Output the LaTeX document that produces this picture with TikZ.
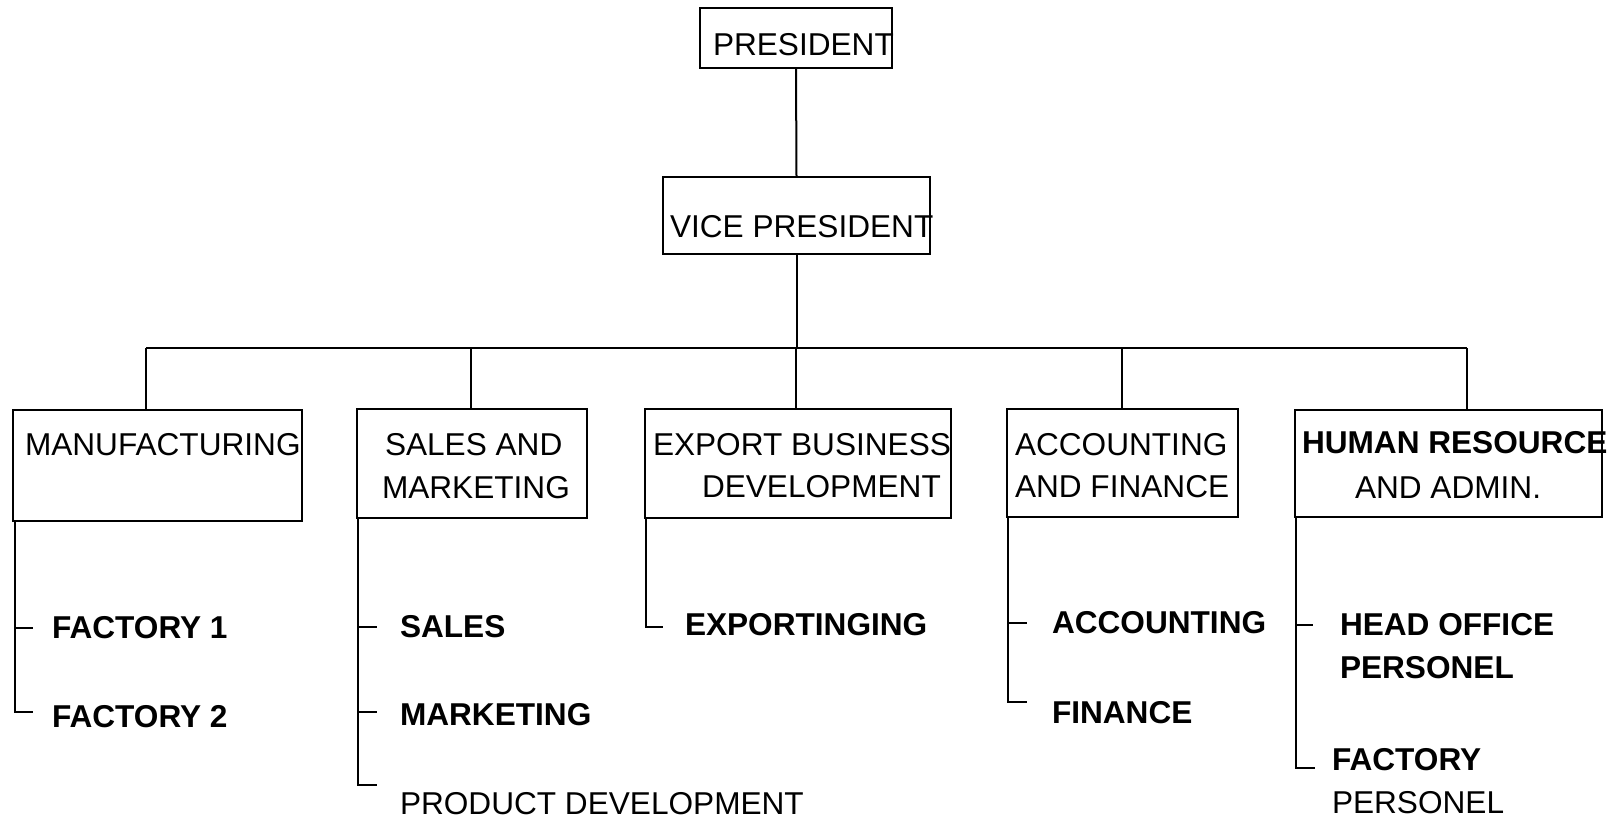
\documentclass[tikz,border=0pt]{standalone}
\usepackage{fontspec}
\setmainfont{Liberation Sans}
\begin{document}
\begin{tikzpicture}[x=1pt,y=-1pt,
  every node/.style={inner sep=0pt, outer sep=0pt},
  box/.style={draw, line width=2.8pt, rectangle, anchor=north west},
  txt/.style={anchor=base west, font=\fontsize{31.6}{36}\selectfont},
  txtb/.style={anchor=base west, font=\fontsize{31.6}{36}\selectfont\bfseries},
  wire/.style={line width=2pt}]
\useasboundingbox (0,0) rectangle (1620,819);

% --- boxes ---
\node[box, minimum width=192pt, minimum height=60pt]  (pres) at (700,8) {};
\node[box, minimum width=267pt, minimum height=77pt]  (vp)   at (663,177) {};
\node[box, minimum width=289pt, minimum height=111pt] (mfg)  at (13,410) {};
\node[box, minimum width=230pt, minimum height=109pt] (sam)  at (357,409) {};
\node[box, minimum width=306pt, minimum height=109pt] (ebd)  at (645,409) {};
\node[box, minimum width=231pt, minimum height=108pt] (aaf)  at (1007,409) {};
\node[box, minimum width=307pt, minimum height=107pt] (hra)  at (1295,410) {};

% --- box captions ---
\node[txt] (presT) at (713,55) {PRESIDENT};
\node[txt] (vpT)   at (670,237) {VICE PRESIDENT};
\node[txt] (mfgT)  at (25,455) {MANUFACTURING};
\node[txt] (samT1) at (385,455) {SALES AND};
\node[txt] (samT2) at (382,498) {MARKETING};
\node[txt] (ebdT1) at (653,455) {EXPORT BUSINESS};
\node[txt] (ebdT2) at (702,497) {DEVELOPMENT};
\node[txt] (aafT1) at (1015,455) {ACCOUNTING};
\node[txt] (aafT2) at (1015,497) {AND FINANCE};
\node[txtb] (hraT1) at (1302,453) {HUMAN RESOURCE};
\node[txt] (hraT2) at (1355,498) {AND ADMIN.};

% --- upper connectors ---
\draw[wire] (pres.south) -- (vp.north);
\coordinate (bar) at (796,348);
\draw[wire] (vp.south) -- (vp.south |- bar);
\coordinate (t1) at ([xshift=133pt]mfg.north west);
\coordinate (t2) at ([xshift=114pt]sam.north west);
\coordinate (t3) at ([xshift=151pt]ebd.north west);
\coordinate (t4) at ([xshift=115pt]aaf.north west);
\coordinate (t5) at ([xshift=172pt]hra.north west);
\draw[wire] (t1 |- bar) -- (t5 |- bar);
\foreach \t in {t1,t2,t3,t4,t5} \draw[wire] (\t) -- (\t |- bar);

% --- manufacturing units ---
\coordinate (m0) at ([xshift=2pt]mfg.south west);
\coordinate (m1) at (33,628);
\coordinate (m2) at (33,712);
\draw[wire] (m0) |- (m2);
\draw[wire] (m0 |- m1) -- (m1);
\node[txtb] (f1) at (52,638) {FACTORY 1};
\node[txtb] (f2) at (52,727) {FACTORY 2};

% --- sales and marketing units ---
\coordinate (s0) at ([xshift=1pt]sam.south west);
\coordinate (s1) at (377,627);
\coordinate (s2) at (377,712);
\coordinate (s3) at (377,785);
\draw[wire] (s0) |- (s3);
\draw[wire] (s0 |- s1) -- (s1);
\draw[wire] (s0 |- s2) -- (s2);
\node[txtb] (sl) at (400,637) {SALES};
\node[txtb] (mk) at (400,725) {MARKETING};
\node[txt]  (pd) at (400,814) {PRODUCT DEVELOPMENT};

% --- export unit ---
\coordinate (e0) at ([xshift=1pt]ebd.south west);
\coordinate (e1) at (663,627);
\draw[wire] (e0) |- (e1);
\node[txtb] (ex) at (685,635) {EXPORTINGING};

% --- accounting and finance units ---
\coordinate (a0) at ([xshift=1pt]aaf.south west);
\coordinate (a1) at (1027,623);
\coordinate (a2) at (1027,702);
\draw[wire] (a0) |- (a2);
\draw[wire] (a0 |- a1) -- (a1);
\node[txtb] (ac) at (1052,633) {ACCOUNTING};
\node[txtb] (fi) at (1052,723) {FINANCE};

% --- human resource units ---
\coordinate (h0) at ([xshift=1pt]hra.south west);
\coordinate (h1) at (1313,625);
\coordinate (h2) at (1315,768);
\draw[wire] (h0) |- (h2);
\draw[wire] (h0 |- h1) -- (h1);
\node[txtb] (ho1) at (1340,635) {HEAD OFFICE};
\node[txtb] (ho2) at (1340,678) {PERSONEL};
\node[txtb] (fp1) at (1332,770) {FACTORY};
\node[txt]  (fp2) at (1332,813) {PERSONEL};
\end{tikzpicture}
\end{document}
